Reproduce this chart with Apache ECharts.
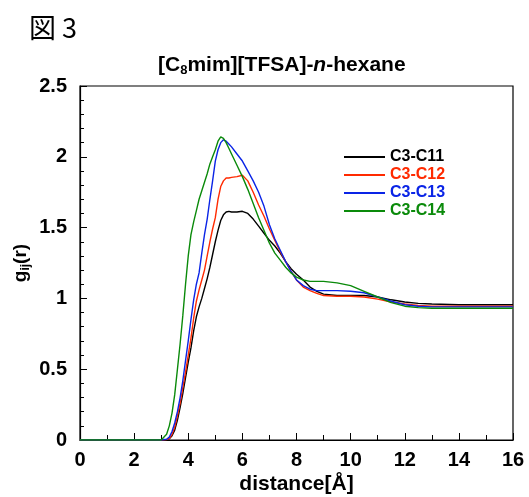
<!DOCTYPE html>
<html>
<head>
<meta charset="utf-8">
<script src="https://cdn.jsdelivr.net/npm/echarts@6/dist/echarts.min.js"></script>
<style>html,body{margin:0;padding:0;background:#fff}#c{width:529px;height:497px}</style>
</head>
<body>
<div id="c"></div>
<script>
// distance grid (Å)
const distance = [0, 3.0, 3.2, 3.3, 3.4, 3.5, 3.6, 3.7, 3.8, 3.9, 4.0, 4.1, 4.2, 4.3, 4.4, 4.5, 4.6, 4.7, 4.8, 4.9, 5.0, 5.1, 5.2, 5.3, 5.4, 5.5, 5.6, 5.8, 6.0, 6.2, 6.4, 6.6, 6.8, 7.0, 7.2, 7.4, 7.6, 7.8, 8.0, 8.25, 8.5, 8.75, 9.0, 9.5, 10.0, 10.5, 11.0, 11.5, 12.0, 12.5, 13, 14, 15, 16];
const seriesNames = ['C3-C11', 'C3-C12', 'C3-C13', 'C3-C14'];
const gC11 = [0, 0, 0.002, 0.008, 0.03, 0.07, 0.14, 0.23, 0.33, 0.44, 0.55, 0.65, 0.77, 0.87, 0.94, 1.00, 1.07, 1.14, 1.22, 1.31, 1.40, 1.48, 1.55, 1.59, 1.61, 1.615, 1.61, 1.61, 1.615, 1.60, 1.56, 1.51, 1.46, 1.41, 1.37, 1.32, 1.26, 1.21, 1.17, 1.13, 1.08, 1.05, 1.03, 1.02, 1.02, 1.02, 1.01, 0.99, 0.975, 0.965, 0.96, 0.955, 0.955, 0.955];
const gC12 = [0, 0, 0.003, 0.01, 0.04, 0.09, 0.17, 0.26, 0.37, 0.48, 0.60, 0.72, 0.86, 0.98, 1.06, 1.13, 1.20, 1.30, 1.40, 1.49, 1.57, 1.70, 1.79, 1.83, 1.85, 1.85, 1.855, 1.86, 1.87, 1.83, 1.75, 1.66, 1.58, 1.49, 1.41, 1.33, 1.26, 1.19, 1.13, 1.08, 1.055, 1.035, 1.02, 1.015, 1.015, 1.01, 0.995, 0.975, 0.96, 0.95, 0.945, 0.945, 0.945, 0.945];
const gC13 = [0, 0, 0.005, 0.02, 0.06, 0.12, 0.20, 0.30, 0.42, 0.56, 0.70, 0.85, 0.99, 1.10, 1.18, 1.32, 1.45, 1.56, 1.70, 1.83, 1.97, 2.05, 2.10, 2.12, 2.11, 2.09, 2.07, 2.02, 1.97, 1.90, 1.83, 1.75, 1.65, 1.52, 1.42, 1.34, 1.26, 1.19, 1.13, 1.09, 1.065, 1.055, 1.055, 1.055, 1.05, 1.04, 1.01, 0.98, 0.955, 0.945, 0.94, 0.94, 0.94, 0.94];
const gC14 = [0, 0, 0.04, 0.10, 0.19, 0.32, 0.50, 0.68, 0.88, 1.10, 1.30, 1.45, 1.54, 1.62, 1.70, 1.76, 1.82, 1.88, 1.95, 2.00, 2.05, 2.11, 2.14, 2.13, 2.10, 2.06, 2.02, 1.94, 1.86, 1.77, 1.67, 1.57, 1.48, 1.39, 1.32, 1.27, 1.22, 1.18, 1.15, 1.13, 1.12, 1.12, 1.12, 1.11, 1.09, 1.05, 1.01, 0.97, 0.945, 0.935, 0.93, 0.93, 0.93, 0.93];
const colors = ['#000000', '#ff2a00', '#0a24e6', '#0a8a0a'];
const xTicks = {min: 0, max: 16, interval: 2};
const yTicks = {min: 0, max: 2.5, interval: 0.5};

const allY = [gC11, gC12, gC13, gC14];
const chart = echarts.init(document.getElementById('c'), null, {renderer: 'canvas'});
const FF = 'Liberation Sans, Arial, sans-serif';
chart.setOption({
  animation: false,
  title: [
    {text: '図 3', left: 24, top: 9, textStyle: {fontFamily: 'Noto Sans CJK JP', fontSize: 27, fontWeight: 'normal', color: '#000'}},
    {text: '{a|[C}{s|8}{a|mim][TFSA]-}{i|n}{a|-hexane}', left: 153, top: 48,
     textStyle: {rich: {
       a: {fontFamily: FF, fontSize: 21, fontWeight: 'bold', color: '#000', lineHeight: 24},
       i: {fontFamily: FF, fontSize: 21, fontWeight: 'bold', fontStyle: 'italic', color: '#000', lineHeight: 24},
       s: {fontFamily: FF, fontSize: 13, fontWeight: 'bold', color: '#000', lineHeight: 24, verticalAlign: 'bottom', padding: [15, 0, 0, 0]}
     }}}
  ],
  legend: {
    orient: 'vertical', left: 339, top: 143, itemWidth: 41, itemHeight: 2, itemGap: 0, icon: 'rect',
    data: seriesNames.map((n, i) => ({name: n, textStyle: {color: colors[i]}})),
    textStyle: {fontFamily: FF, fontSize: 16, fontWeight: 'bold', lineHeight: 18}
  },
  grid: {left: 80, right: 16, top: 86, bottom: 57, containLabel: false, outerBoundsMode: 'none',
         show: true, borderColor: '#000', borderWidth: 1.2, backgroundColor: 'transparent'},
  xAxis: {
    type: 'value', min: xTicks.min, max: xTicks.max, interval: xTicks.interval,
    name: 'distance[Å]', nameLocation: 'middle', nameGap: 34, nameMoveOverlap: false,
    nameTextStyle: {fontFamily: FF, fontSize: 21, fontWeight: 'bold', color: '#000'},
    axisLine: {lineStyle: {color: '#000', width: 1.2}},
    axisTick: {inside: true, length: 7, lineStyle: {color: '#000'}},
    minorTick: {show: true, splitNumber: 2, length: 5, lineStyle: {color: '#000'}},
    splitLine: {show: false},
    axisLabel: {fontFamily: FF, fontSize: 20, fontWeight: 'bold', color: '#000', margin: 10}
  },
  yAxis: {
    type: 'value', min: yTicks.min, max: yTicks.max, interval: yTicks.interval,
    name: '{a|g}{s|ij}{a|(r)}', nameLocation: 'middle', nameGap: 48, nameRotate: 90, nameMoveOverlap: false,
    nameTextStyle: {rich: {
      a: {fontFamily: FF, fontSize: 19, fontWeight: 'bold', color: '#000', lineHeight: 22},
      s: {fontFamily: FF, fontSize: 12, fontWeight: 'bold', color: '#000', lineHeight: 22, verticalAlign: 'bottom', padding: [12, 0, 0, 0]}
    }},
    axisLine: {lineStyle: {color: '#000', width: 1.2}},
    axisTick: {inside: true, length: 7, lineStyle: {color: '#000'}},
    minorTick: {show: true, splitNumber: 5, length: 4, lineStyle: {color: '#000'}},
    splitLine: {show: false},
    axisLabel: {fontFamily: FF, fontSize: 20, fontWeight: 'bold', color: '#000', margin: 13}
  },
  series: seriesNames.map((n, i) => ({
    name: n, type: 'line', symbol: 'none', color: colors[i],
    lineStyle: {width: 1.4, color: colors[i]},
    data: distance.map((d, k) => [d, allY[i][k]])
  }))
});
</script>
</body>
</html>
